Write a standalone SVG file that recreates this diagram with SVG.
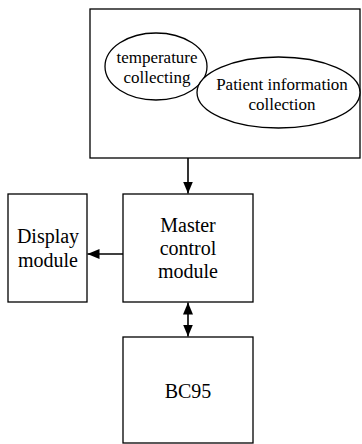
<svg xmlns="http://www.w3.org/2000/svg" width="362" height="444" viewBox="0 0 362 444">
<defs>
<style>
.box{fill:#fff;stroke:#000;stroke-width:1.3}
.t{font-family:"Liberation Serif","Times New Roman",serif;fill:#000;text-anchor:middle}
.big{font-size:20px}
.sm{font-size:17px}
.ln{stroke:#000;stroke-width:1.6;fill:none}
</style>
<marker id="ah" viewBox="0 0 12 11" refX="12" refY="5.5" markerWidth="12" markerHeight="11" markerUnits="userSpaceOnUse" orient="auto-start-reverse">
<path d="M0,0.5 L12,5.5 L0,10.5 Z" fill="#000"/>
</marker>
</defs>
<g id="collect">
<rect class="box" x="90" y="9" width="270" height="149"/>
<g id="temp">
<ellipse class="box" cx="156" cy="66.5" rx="51" ry="33.5"/>
<text class="t sm" x="157" y="63">temperature</text>
<text class="t sm" x="157" y="83">collecting</text>
</g>
<g id="patient">
<ellipse class="box" cx="278.5" cy="92.5" rx="81.5" ry="35.5"/>
<text class="t sm" x="282" y="90">Patient information</text>
<text class="t sm" x="282" y="110">collection</text>
</g>
</g>
<g id="display">
<rect class="box" x="8" y="194" width="79" height="108"/>
<text class="t big" x="48" y="243">Display</text>
<text class="t big" x="48" y="267">module</text>
</g>
<g id="master">
<rect class="box" x="123" y="194" width="130" height="108"/>
<text class="t big" x="188" y="232">Master</text>
<text class="t big" x="188" y="255">control</text>
<text class="t big" x="188" y="278">module</text>
</g>
<g id="bc95">
<rect class="box" x="123" y="337" width="130" height="106"/>
<text class="t big" x="188" y="398">BC95</text>
</g>
<g id="connectors">
<line class="ln" x1="188" y1="158" x2="188" y2="193.5" marker-end="url(#ah)"/>
<line class="ln" x1="123" y1="254" x2="87.5" y2="254" marker-end="url(#ah)"/>
<line class="ln" x1="188" y1="302.5" x2="188" y2="336.5" marker-start="url(#ah)" marker-end="url(#ah)"/>
</g>
</svg>
